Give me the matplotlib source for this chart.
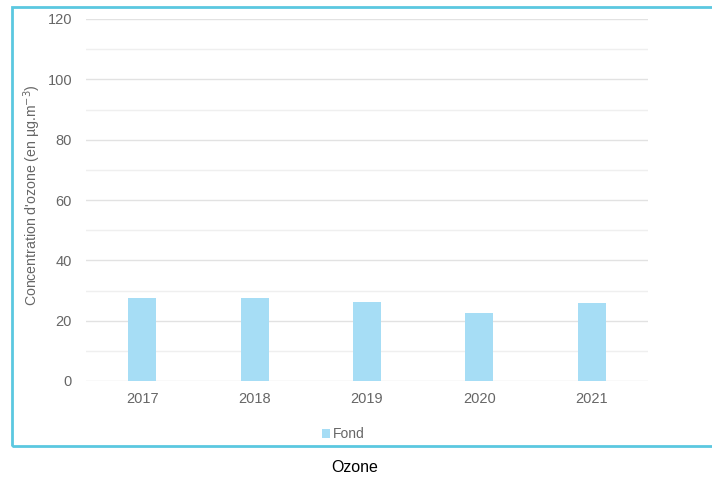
# concentration d'ozone - fond, 2017-2021
import matplotlib.pyplot as plt
from matplotlib.patches import Rectangle

annees = ['2017', '2018', '2019', '2020', '2021']
fond = [27.4, 27.4, 26.3, 22.4, 25.7]

plt.rcParams['font.family'] = ['Liberation Sans', 'DejaVu Sans']

fig = plt.figure(figsize=(7.12, 4.8), dpi=100)
W, H = 712, 480
ax = fig.add_axes([86 / W, 1 - 381 / H, (648 - 86) / W, (381 - 19) / H])

gris = '#666666'
ax.bar(range(len(annees)), fond, width=0.25, color='#a6ddf5', label='Fond', zorder=3)

ax.set_xlim(-0.5, 4.5)
ax.set_ylim(0, 120)
ax.set_yticks(range(0, 121, 20))
ax.set_yticks(range(10, 120, 20), minor=True)
ax.set_xticks(range(len(annees)))
ax.set_xticklabels(annees)
ax.grid(axis='y', which='major', color='#e2e2e2', linewidth=1, zorder=0)
ax.grid(axis='y', which='minor', color='#efefef', linewidth=1, zorder=0)
for s in ax.spines.values():
    s.set_visible(False)
ax.tick_params(axis='both', which='both', length=0, colors=gris, labelsize=10.5)
ax.tick_params(axis='y', pad=10)
ax.tick_params(axis='x', pad=8)

ax.set_ylabel("Concentration d'ozone (en µg.m$^{-3}$)", color=gris, fontsize=10.2)
ax.yaxis.set_label_coords(-(86 - 43) / (648 - 86), 0.515)

fig.legend(loc='center', bbox_to_anchor=(343 / W, 1 - 434 / H), frameon=False,
           fontsize=10, labelcolor=gris, handlelength=0.6, handleheight=0.6,
           handletextpad=0.2)

# cadre bleu autour du graphique
fig.patches.append(Rectangle((12 / W, 1 - 446 / H), 1, (446 - 7) / H,
                             transform=fig.transFigure, fill=False,
                             edgecolor='#5bc8e0', linewidth=2))

fig.text(355 / W, 1 - 468 / H, 'Ozone', ha='center', va='center',
         fontsize=11.5, color='black')

fig.savefig('out.png', dpi=100)
